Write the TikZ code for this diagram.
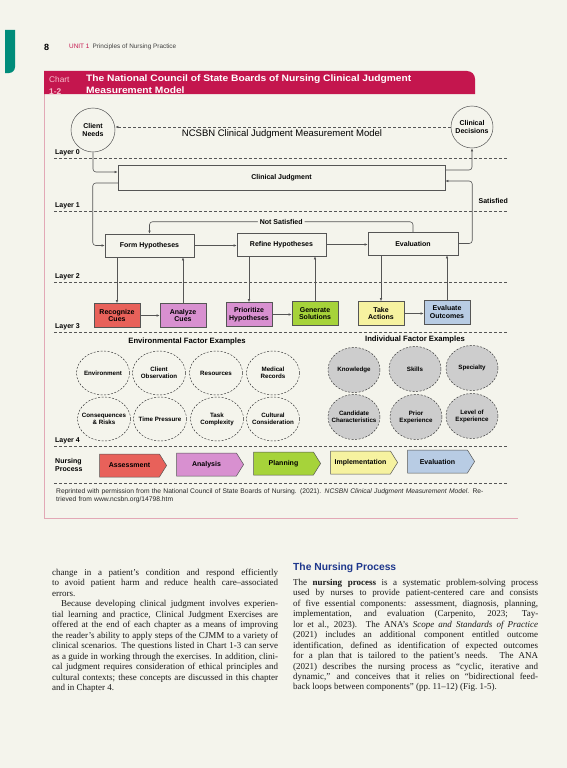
\documentclass[tikz,border=0pt]{standalone}
\usepackage{fontspec}
\setmainfont{Liberation Serif}
\setsansfont{Liberation Sans}
\newfontfamily\widesans{Liberation Sans}[FakeStretch=1.1]
\usetikzlibrary{arrows.meta,shapes.symbols}

\definecolor{pagebg}{RGB}{244,244,236}
\definecolor{crimson}{RGB}{196,22,78}
\definecolor{chartpink}{RGB}{247,190,205}
\definecolor{tabteal}{RGB}{0,140,122}
\definecolor{framepink}{RGB}{226,168,182}
\definecolor{linegray}{RGB}{85,85,85}
\definecolor{recog}{RGB}{232,97,90}
\definecolor{analyze}{RGB}{216,144,208}
\definecolor{plan}{RGB}{166,211,58}
\definecolor{impl}{RGB}{246,242,160}
\definecolor{evalc}{RGB}{184,204,228}
\definecolor{indgray}{RGB}{205,205,205}
\definecolor{headblue}{RGB}{30,55,140}

\newcommand{\labfont}{\sffamily\bfseries\fontsize{7}{7.8}\selectfont}
\newcommand{\facfont}{\sffamily\bfseries\fontsize{6.2}{7}\selectfont}
\newcommand{\bodyfont}{\fontsize{9}{10.45}\selectfont}
\newcommand{\capfont}{\sffamily\fontsize{6.7}{8.4}\selectfont}

\begin{document}
\begin{tikzpicture}[x=1pt, y=-1pt,
    box/.style={draw=linegray, line width=0.5pt, font=\labfont, align=center, inner sep=1pt},
    cue/.style={box, minimum width=46pt, minimum height=24pt},
    arr/.style={draw=linegray, line width=0.6pt, rounded corners=3pt, -{Latex[length=3.2pt,width=2.6pt]}},
    layerline/.style={draw=linegray, line width=0.5pt, dash pattern=on 3pt off 2pt},
    layerlab/.style={anchor=south west, font=\labfont, inner sep=1pt},
    envfac/.style={draw=black!80, line width=0.45pt, dash pattern=on 2pt off 1.5pt},
    indfac/.style={envfac, fill=indgray},
    factxt/.style={font=\facfont, align=center, inner sep=0pt},
    procstep/.style={signal, signal to=east, signal pointer angle=116, draw=linegray,
      line width=0.5pt, minimum width=67pt, minimum height=23pt, inner sep=0pt, font=\labfont}]
  \fill[pagebg] (0,0) rectangle (567,768);
  \useasboundingbox (0,0) rectangle (567,768);

  % page head
  \fill[tabteal] (5,30) -- (15,30) -- (15,67) arc[start angle=0, end angle=90, radius=6] -- (5,73) -- cycle;
  \node[anchor=west, inner sep=0pt, font=\sffamily\bfseries\fontsize{9}{9}\selectfont] (pgno) at (44,47) {8};
  \node[anchor=west, inner sep=0pt, font=\sffamily\fontsize{6.4}{6.4}\selectfont, text=black!75] (unit) at (69,47)
    {\textcolor{crimson}{UNIT 1}\enspace Principles of Nursing Practice};

  % chart frame and title bar
  \draw[framepink, line width=1pt] (44,94) -- (44,518) -- (518,518);
  \fill[crimson] (44,94) -- (44,71) -- (467,71) arc[start angle=-90, end angle=0, radius=8] -- (475,94) -- cycle;
  \node[anchor=west, inner sep=0pt, text=chartpink, font=\sffamily\fontsize{8.3}{8.3}\selectfont] (chartw) at (49,80) {Chart};
  \node[anchor=west, inner sep=0pt, text=chartpink, font=\sffamily\bfseries\fontsize{8.3}{8.3}\selectfont] (chartn) at (49,91.5) {1-2};
  \node[anchor=west, inner sep=0pt, text=white, align=left, font=\widesans\bfseries\fontsize{9.3}{11.8}\selectfont] (title) at (86,84.5)
    {The National Council of State Boards of Nursing Clinical Judgment\\Measurement Model};

  % layers
  \foreach \y/\lab in {158/Layer 0, 211/Layer 1, 282/Layer 2, 332/Layer 3, 446/Layer 4}{
    \draw[layerline] (54,\y) -- (508,\y);
    \node[layerlab] at (54,\y-1) {\lab};
  }
  \draw[layerline] (54,483) -- (508,483);

  % layer 0 and 1
  \node[circle, draw=linegray, line width=0.5pt, minimum size=44pt, inner sep=0pt, font=\labfont, align=center] (cn) at (93,130) {Client\\Needs};
  \node[circle, draw=linegray, line width=0.5pt, minimum size=42pt, inner sep=0pt, font=\labfont, align=center] (cd) at (472,127) {Clinical\\Decisions};
  \node[font=\sffamily\fontsize{9.5}{9.5}\selectfont, inner sep=0pt] (model) at (282,134) {NCSBN Clinical Judgment Measurement Model};
  \draw[arr, dash pattern=on 3pt off 2pt] (cd.west) -- (cn.east |- cd.west);
  \node[box, minimum width=327pt, minimum height=25pt] (cj) at (281.5,177.5) {Clinical Judgment};

  % layer 2
  \node[box, minimum width=89pt, minimum height=23pt] (fh) at (149.5,245.5) {Form Hypotheses};
  \node[box, minimum width=89pt, minimum height=23pt] (rh) at (281.5,244.5) {Refine Hypotheses};
  \node[box, minimum width=90pt, minimum height=23pt] (ev) at (413,243.5) {Evaluation};
  \node[anchor=east, font=\labfont, inner sep=0pt] (sat) at (508,201) {Satisfied};

  % layer 3
  \foreach \n/\x/\y/\col/\t in {rc/117/315.5/recog/{Recognize\\Cues}, ac/183/315.5/analyze/{Analyze\\Cues},
      ph/249/314.5/analyze/{Prioritize\\Hypotheses}, gs/315/313.5/plan/{Generate\\Solutions},
      ta/381/313.5/impl/{Take\\Actions}, eo/447/312/evalc/{Evaluate\\Outcomes}}
    \node[cue, fill=\col] (\n) at (\x,\y) {\t};

  % connectors
  \draw[arr] (cn.south) |- ([yshift=5.5pt]cj.west);
  \draw[arr] ([yshift=7.5pt]cj.east) -| (cd.south);
  \draw[arr] (ev.east) -- ++(14,0) |- ([yshift=-3.5pt]cj.east);
  \draw[arr] ([yshift=-5.5pt]cj.west) -- ++(-25,0) |- (fh.west);
  \draw[arr] (ev.north) -- ++(0,-10) -| (fh.north)
    node[pos=0.25, fill=pagebg, inner sep=2pt, font=\labfont] (notsat) {Not Satisfied};
  \draw[arr] (fh.east) -- (fh.east -| rh.west);
  \draw[arr] (rh.east) -- (rh.east -| ev.west);
  \foreach \a/\b in {fh/rc, rh/ph, ev/ta}
    \draw[arr] (\a.south -| \b.north) -- (\b.north);
  \foreach \a/\b in {fh/ac, rh/gs, ev/eo}
    \draw[arr] (\b.north) -- (\b.north |- \a.south);
  \foreach \a/\b in {rc/ac, ph/gs, ta/eo}
    \draw[arr] (\a.east) -- (\a.east -| \b.west);

  % factor examples
  \node[font=\sffamily\bfseries\fontsize{7.7}{7.7}\selectfont, inner sep=0pt] (envhead) at (187,342) {Environmental Factor Examples};
  \node[font=\sffamily\bfseries\fontsize{7.7}{7.7}\selectfont, inner sep=0pt] (indhead) at (415,340) {Individual Factor Examples};
  \foreach \x/\y/\t [count=\i] in {103/373/Environment, 159/373/{Client\\Observation}, 216/373/Resources,
      273/373/{Medical\\Records}, 104/419/{Consequences\\\& Risks}, 160/419/Time Pressure,
      217/419/{Task\\Complexity}, 273/419/{Cultural\\Consideration}}{
    \draw[envfac] (\x,\y) ellipse[x radius=26.5, y radius=22];
    \node[factxt] (env\i) at (\x,\y) {\t};
  }
  \foreach \x/\y/\t [count=\i] in {354/370/Knowledge, 415/369/Skills, 472/368/Specialty,
      354/417/{Candidate\\Characteristics}, 416/417/{Prior\\Experience}, 472/416/{Level of\\Experience}}{
    \draw[indfac] (\x,\y) ellipse[x radius=26, y radius=22.5];
    \node[factxt] (ind\i) at (\x,\y) {\t};
  }

  % layer 4: nursing process
  \node[anchor=west, font=\labfont, align=left, inner sep=0pt] (nproc) at (55,465) {Nursing\\Process};
  \foreach \x/\y/\col/\t [count=\i] in {129.5/465.5/recog/Assessment, 206.5/464.5/analyze/Analysis,
      283.5/463.5/plan/Planning, 360.5/462.5/impl/Implementation, 437.5/461.5/evalc/Evaluation}
    \node[procstep, fill=\col] (np\i) at (\x,\y) {\t};

  % source line
  \node[anchor=north west, inner sep=0pt, text width=470pt, align=left, font=\capfont, text=black!85] (source) at (56,488)
    {\hangindent=8pt\hangafter=1 Reprinted with permission from the National Council of State Boards of Nursing. (2021).
     \textit{NCSBN Clinical Judgment Measurement Model}. Re-\linebreak trieved from www.ncsbn.org/14798.htm};

  % running text
  \node[anchor=north west, inner sep=0pt, text width=226pt, align=justify, font=\bodyfont, text=black!90] (leftcol) at (52,569)
    {change in a patient's condition and respond efficiently\linebreak
     to avoid patient harm and reduce health care–associated\linebreak
     errors.\par
     \hspace*{9pt}Because developing clinical judgment involves experien-\linebreak
     tial learning and practice, Clinical Judgment Exercises are\linebreak
     offered at the end of each chapter as a means of improving\linebreak
     the reader's ability to apply steps of the CJMM to a variety of\linebreak
     clinical scenarios. The questions listed in Chart 1-3 can serve\linebreak
     as a guide in working through the exercises. In addition, clini-\linebreak
     cal judgment requires consideration of ethical principles and\linebreak
     cultural contexts; these concepts are discussed in this chapter\linebreak
     and in Chapter 4.};
  \node[anchor=west, inner sep=0pt, text=headblue, font=\sffamily\bfseries\fontsize{10.3}{10.3}\selectfont] (nphead) at (293,568) {The Nursing Process};
  \node[anchor=north west, inner sep=0pt, text width=245pt, align=justify, font=\bodyfont, text=black!90] (rightcol) at (293,579)
    {The \textbf{nursing process} is a systematic problem-solving process\linebreak
     used by nurses to provide patient-centered care and consists\linebreak
     of five essential components: assessment, diagnosis, planning,\linebreak
     implementation, and evaluation (Carpenito, 2023; Tay-\linebreak
     lor et al., 2023). The ANA's \textit{Scope and Standards of Practice}\linebreak
     (2021) includes an additional component entitled outcome\linebreak
     identification, defined as identification of expected outcomes\linebreak
     for a plan that is tailored to the patient's needs. The ANA\linebreak
     (2021) describes the nursing process as ``cyclic, iterative and\linebreak
     dynamic,'' and conceives that it relies on ``bidirectional feed-\linebreak
     back loops between components'' (pp.~11–12) (Fig.~1-5).};
\end{tikzpicture}
\end{document}
